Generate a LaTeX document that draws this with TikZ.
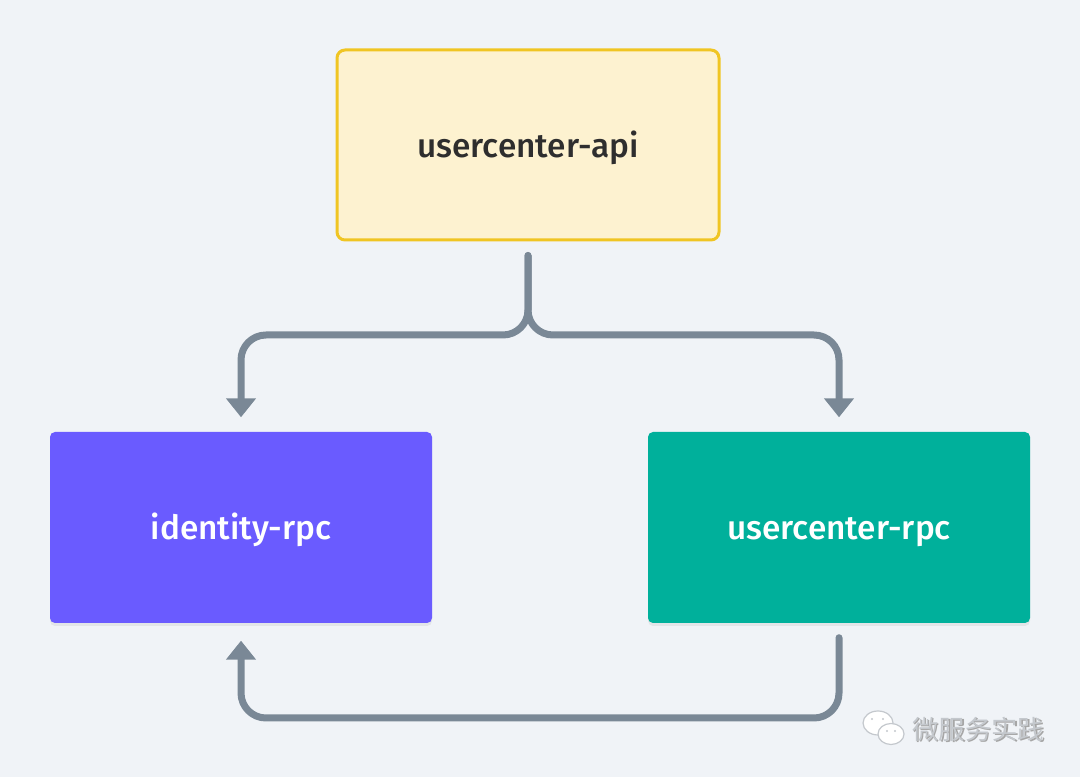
\documentclass[tikz,border=0pt]{standalone}
\usepackage{fontspec}
\setsansfont{Fira Sans}[UprightFont={* Medium}]
\newfontfamily\cjk{Noto Sans CJK SC}
\usetikzlibrary{arrows.meta,shadows}
\definecolor{bgcol}{RGB}{240,243,247}
\definecolor{flowcol}{RGB}{122,136,150}
\definecolor{apifill}{RGB}{253,242,208}
\definecolor{apiline}{RGB}{240,197,35}
\definecolor{idfill}{RGB}{106,91,255}
\definecolor{ucfill}{RGB}{0,176,155}
\definecolor{markcol}{RGB}{196,200,205}
\tikzset{
  svcbox/.style={minimum width=3.82cm,minimum height=1.91cm,rounded corners=0.05cm,
    text=white,text height=0.3cm,text depth=0.05cm,
    drop shadow={opacity=0.12,shadow xshift=0cm,shadow yshift=-0.03cm}},
  flow/.style={draw=flowcol,line width=0.07cm,rounded corners=0.25cm,
    -{Triangle[width=0.29cm,length=0.19cm]}}
}
\begin{document}
\begin{tikzpicture}[line join=round,line cap=round,font=\sffamily\fontsize{9.5}{11}\selectfont]
\fill[bgcol] (0,0) rectangle (10.8,7.77);
\useasboundingbox (0,0) rectangle (10.8,7.77);
% boxes
\node[draw=apiline,fill=apifill,line width=0.03cm,rounded corners=0.08cm,
  minimum width=3.82cm,minimum height=1.9cm,text={black!82},
  text height=0.3cm,text depth=0.05cm] (api) at (5.28,6.32) {usercenter-api};
\node[svcbox,fill=idfill] (idrpc) at (2.41,2.495) {identity-rpc};
\node[svcbox,fill=ucfill] (ucrpc) at (8.39,2.495) {usercenter-rpc};
% connectors
\coordinate (apiout) at ([yshift=-0.14cm]api.south);
\coordinate (bus) at (5.28,4.42);
\coordinate (idin) at ([yshift=0.14cm]idrpc.north);
\coordinate (ucin) at ([yshift=0.14cm]ucrpc.north);
\draw[flow] (apiout) -- (bus) -| (idin);
\draw[flow] (apiout) -- (bus) -| (ucin);
\coordinate (ucout) at ([yshift=-0.14cm]ucrpc.south);
\coordinate (loop) at (8.39,0.59);
\coordinate (idback) at ([yshift=-0.17cm]idrpc.south);
\draw[flow] (ucout) -- (loop) -| (idback);
% watermark
\draw[markcol,fill=white,line width=0.012cm] (8.78,0.54) ellipse (0.15cm and 0.12cm);
\draw[markcol,fill=white,line width=0.012cm] (8.91,0.43) ellipse (0.13cm and 0.105cm);
\fill[markcol] (8.72,0.58) circle (0.012cm) (8.83,0.58) circle (0.012cm)
  (8.87,0.46) circle (0.012cm) (8.95,0.46) circle (0.012cm);
\node[text=black!35,anchor=west,font=\cjk\fontsize{7.5}{9}\selectfont] at (9.015,0.465) {微服务实践};
\node[text=markcol,anchor=west,font=\cjk\fontsize{7.5}{9}\selectfont] (mark) at (9.0,0.48) {微服务实践};
\end{tikzpicture}
\end{document}
